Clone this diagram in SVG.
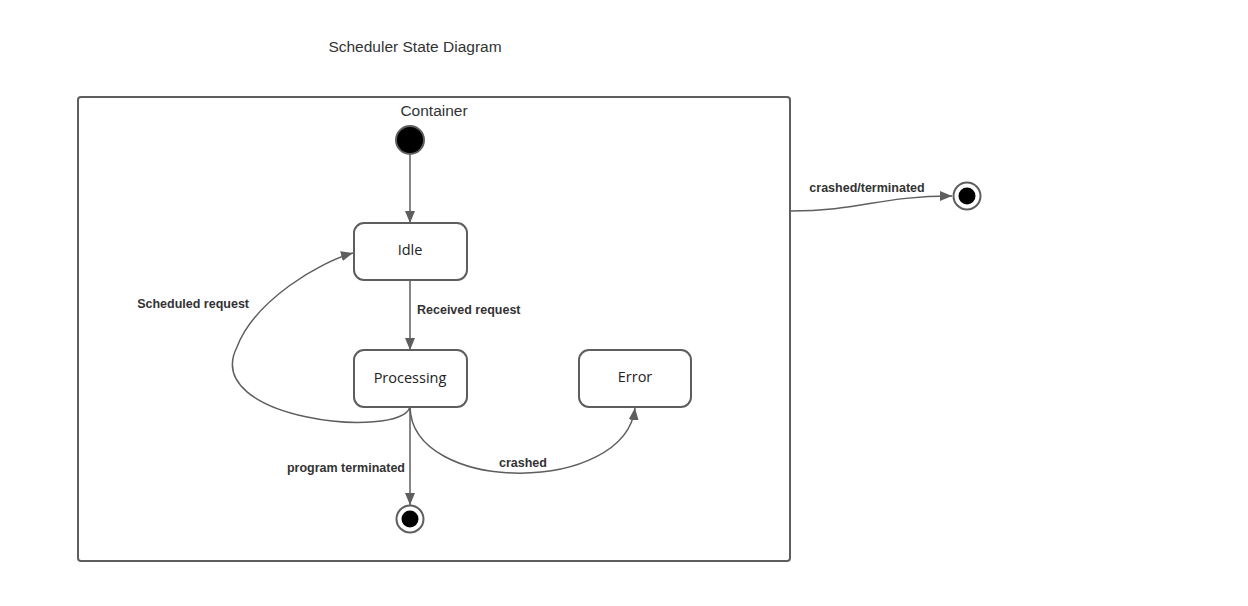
<svg xmlns="http://www.w3.org/2000/svg" width="1248" height="606" viewBox="0 0 1248 606">
<style>
.box{fill:#fff;stroke:#5e5e5e;stroke-width:2}
.ln{fill:none;stroke:#5e5e5e;stroke-width:1.5}
.t{font-family:"Liberation Sans",Arial,sans-serif;fill:#333;font-size:15.5px}
.nt{font-family:"Open Sans","Liberation Sans",sans-serif;fill:#222;font-size:14.5px;text-anchor:middle}
.lb{font-family:"Liberation Sans",Arial,sans-serif;fill:#333;font-size:12.5px;font-weight:bold}
</style>
<defs>
<marker id="ar" viewBox="0 0 12 10" refX="12" refY="5" markerWidth="12" markerHeight="10" markerUnits="userSpaceOnUse" orient="auto">
<path d="M0,0 L12,5 L0,10 Z" fill="#5e5e5e"/>
</marker>
</defs>
<rect width="1248" height="606" fill="#fff"/>
<text class="t" x="415" y="52" text-anchor="middle">Scheduler State Diagram</text>
<g id="container">
<rect class="box" x="78" y="97" width="712" height="464" rx="3"/>
<text class="t" x="434" y="116" text-anchor="middle">Container</text>
</g>
<g id="connectors">
<path class="ln" d="M410,155 L410,223" marker-end="url(#ar)"/>
<path class="ln" d="M410,280 L410,350" marker-end="url(#ar)"/>
<path class="ln" d="M410,407 C400,440 200,420 237,347 C255,300 320,262 353,253" marker-end="url(#ar)"/>
<path class="ln" d="M410,407 C412,495 625,495 635,408" marker-end="url(#ar)"/>
<path class="ln" d="M410,407 L410,505" marker-end="url(#ar)"/>
<path class="ln" d="M790,211 C860,211 880,196 952,196" marker-end="url(#ar)"/>
<text class="lb" x="417" y="314">Received request</text>
<text class="lb" x="249" y="308" text-anchor="end">Scheduled request</text>
<text class="lb" x="523" y="467" text-anchor="middle">crashed</text>
<text class="lb" x="405" y="472" text-anchor="end">program terminated</text>
<text class="lb" x="867" y="192" text-anchor="middle">crashed/terminated</text>
</g>
<g id="initial">
<circle cx="410" cy="140" r="14" fill="#000" stroke="#5e5e5e" stroke-width="2"/>
</g>
<g id="idle">
<rect class="box" x="354" y="223" width="113" height="57" rx="10"/>
<text class="nt" x="410" y="255">Idle</text>
</g>
<g id="processing">
<rect class="box" x="354" y="350" width="113" height="57" rx="10"/>
<text class="nt" x="410" y="383">Processing</text>
</g>
<g id="error">
<rect class="box" x="579" y="350" width="112" height="57" rx="10"/>
<text class="nt" x="635" y="382">Error</text>
</g>
<g id="final-inner">
<circle cx="410" cy="519" r="13.5" fill="#fff" stroke="#5e5e5e" stroke-width="2"/>
<circle cx="410" cy="519" r="8.5" fill="#000"/>
</g>
<g id="final-outer">
<circle cx="967" cy="196" r="13.5" fill="#fff" stroke="#5e5e5e" stroke-width="2"/>
<circle cx="967" cy="196" r="8.5" fill="#000"/>
</g>
</svg>
